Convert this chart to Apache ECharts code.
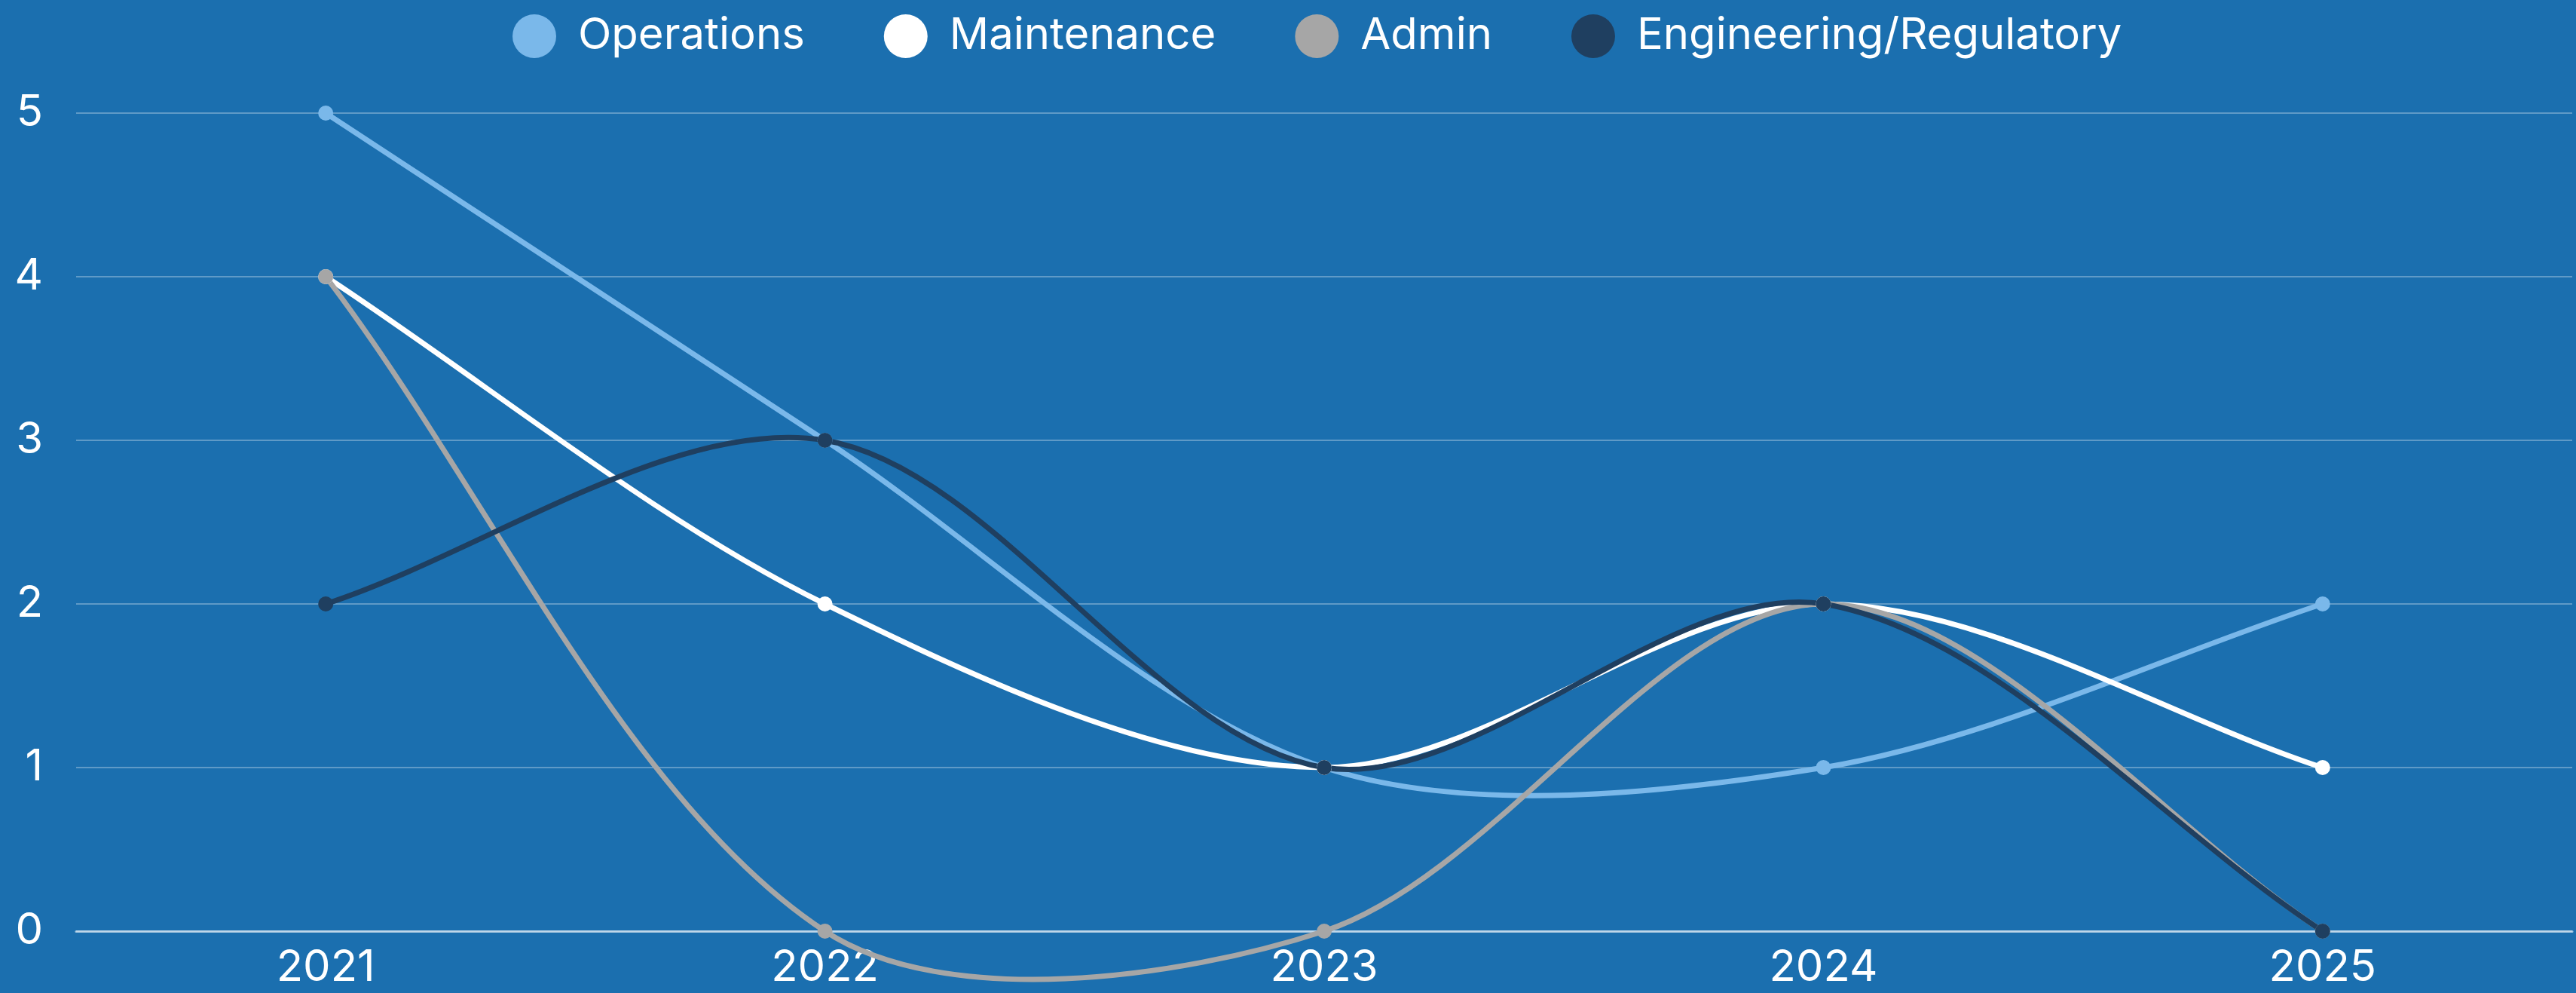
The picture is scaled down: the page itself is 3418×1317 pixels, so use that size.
<!DOCTYPE html>
<html><head><meta charset="utf-8">
<style>html,body{margin:0;padding:0;background:#1b6faf;}#c{width:3418px;height:1317px;}</style>
<script src="https://cdn.jsdelivr.net/npm/echarts@6/dist/echarts.min.js"></script>
</head><body><div id="c"></div>
<script>
const categories = ['2021','2022','2023','2024','2025'];
const operations = [5,3,1,1,2];
const maintenance = [4,2,1,2,1];
const admin = [4,0,0,2,0];
const engineering = [2,3,1,2,0];
const yTicks = [0,1,2,3,4,5];

const TENSION = 0.32;
const chart = echarts.init(document.getElementById('c'));
const font = 'Inter';

// control points (distance-weighted cardinal spline) computed in pixel space
function controlPoints(pts, i){
  const cur = pts[i];
  const prev = pts[i-1] || cur;
  const next = pts[i+1] || cur;
  const d01 = Math.hypot(cur[0]-prev[0], cur[1]-prev[1]);
  const d12 = Math.hypot(next[0]-cur[0], next[1]-cur[1]);
  let s01 = d01/(d01+d12), s12 = d12/(d01+d12);
  if (!isFinite(s01)) s01 = 0;
  if (!isFinite(s12)) s12 = 0;
  const fa = TENSION*s01, fb = TENSION*s12;
  return {
    prev:[cur[0]-fa*(next[0]-prev[0]), cur[1]-fa*(next[1]-prev[1])],
    next:[cur[0]+fb*(next[0]-prev[0]), cur[1]+fb*(next[1]-prev[1])]
  };
}

function s(name, values, color){
  return {
    name, type:'custom', coordinateSystem:'cartesian2d',
    itemStyle:{color},
    encode:{x:0, y:1},
    data: values.map((v,i)=>[i,v]),
    clip:false,
    renderItem:(params, api)=>{
      const i = params.dataIndex;
      const pts = values.map((v,k)=>api.coord([k,v]));
      const children = [];
      if (i < values.length-1){
        const a = controlPoints(pts, i), b = controlPoints(pts, i+1);
        children.push({type:'bezierCurve', shape:{
          x1:pts[i][0], y1:pts[i][1], x2:pts[i+1][0], y2:pts[i+1][1],
          cpx1:a.next[0], cpy1:a.next[1], cpx2:b.prev[0], cpy2:b.prev[1]},
          style:{stroke:color, lineWidth:7, fill:null, lineCap:'round'}, z2:1});
      }
      children.push({type:'circle', shape:{cx:pts[i][0], cy:pts[i][1], r:10},
        style:{fill:color}, z2:2});
      return {type:'group', children};
    }
  };
}
chart.setOption({
  backgroundColor:'#1b6faf',
  animation:false,
  legend:{top:14, left:675, icon:'circle', itemWidth:58, itemHeight:58, itemGap:105,
    textStyle:{color:'#ffffff', fontSize:58, fontFamily:font, padding:[0,0,0,24]}},
  grid:{left:101, right:5, top:150, bottom:82, containLabel:false},
  xAxis:{type:'category', data:categories, boundaryGap:true,
    axisLine:{lineStyle:{color:'rgba(255,255,255,0.6)', width:3}},
    axisTick:{show:false},
    axisLabel:{color:'#ffffff', fontSize:58, fontFamily:font, margin:20}},
  yAxis:{type:'value', min:0, max:5, interval:1,
    axisLine:{show:false}, axisTick:{show:false},
    splitLine:{lineStyle:{color:'rgba(255,255,255,0.3)', width:2}},
    axisLabel:{color:'#ffffff', fontSize:58, fontFamily:font, margin:44,
      formatter:(v)=> yTicks.includes(v) ? String(v) : ''}},
  series:[
    s('Operations', operations, '#7ab8ea'),
    s('Maintenance', maintenance, '#ffffff'),
    s('Admin', admin, '#a6a6a6'),
    s('Engineering/Regulatory', engineering, '#1f3f60')
  ]
});
</script></body></html>
